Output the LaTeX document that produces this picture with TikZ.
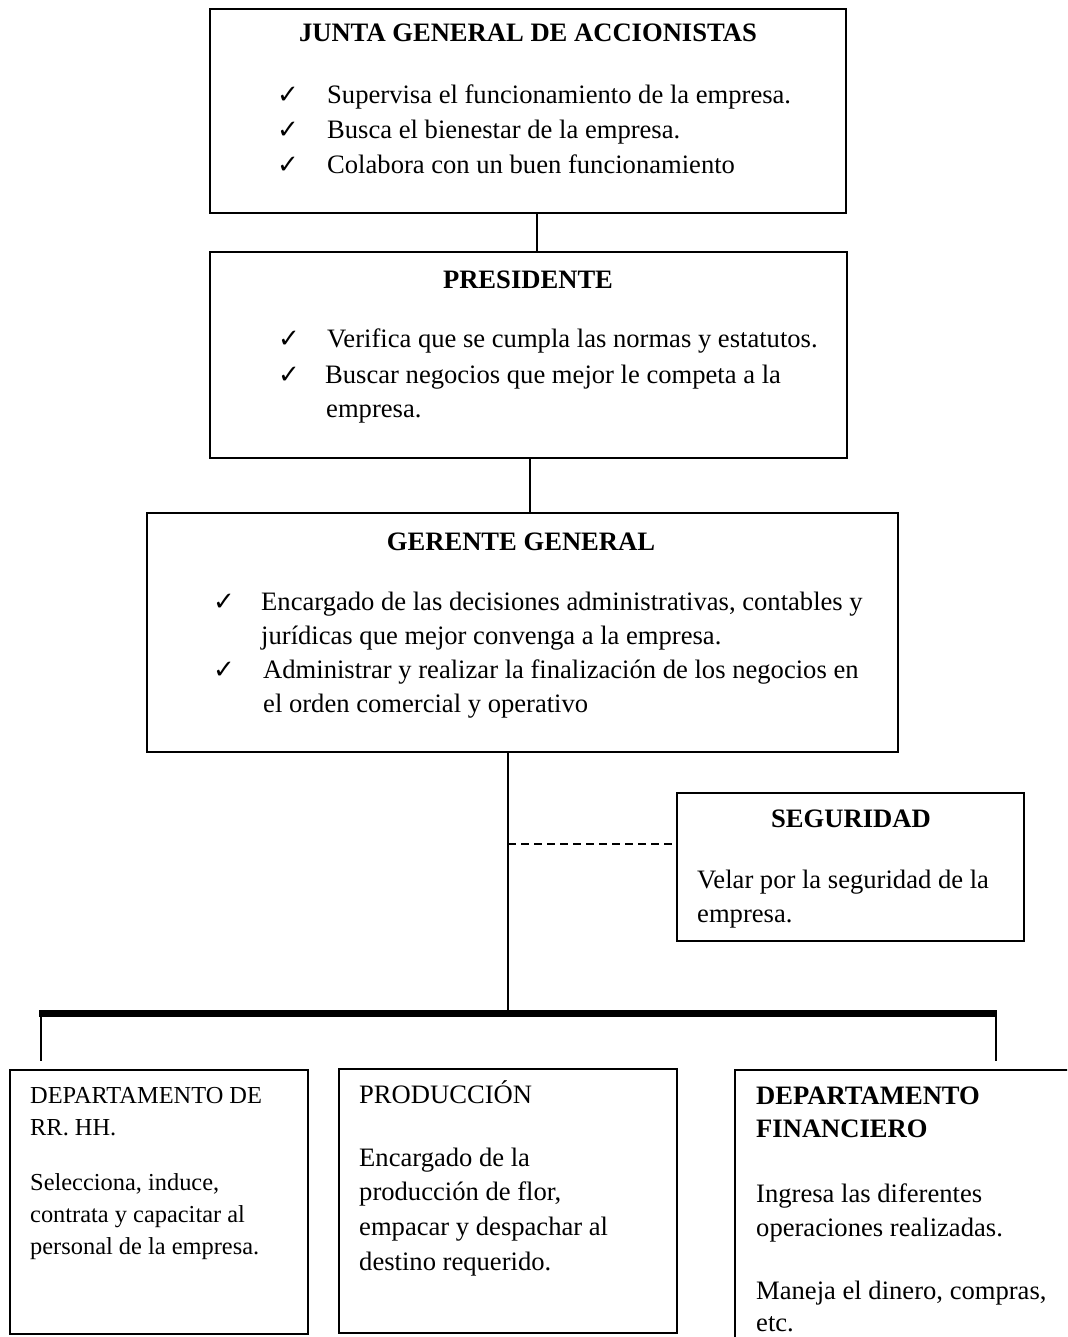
\documentclass[tikz,border=0pt]{standalone}
\usepackage{fontspec}
\setmainfont{Liberation Serif}
\newfontfamily\djv{DejaVu Sans}
\newcommand\fsA{\fontsize{26.6}{34}\selectfont}
\newcommand\fsB{\fontsize{24.4}{34}\selectfont}
\begin{document}
\begin{tikzpicture}[x=1pt,y=-1pt,
  box/.style={draw,line width=1.6pt,inner sep=0pt,anchor=north west},
  txt/.style={inner sep=0pt,anchor=base west,font=\fsA},
  txtB/.style={inner sep=0pt,anchor=base west,font=\fsB},
  bld/.style={inner sep=0pt,anchor=base west,font=\fsA\bfseries},
  ttl/.style={inner sep=0pt,anchor=base,font=\fsA\bfseries},
  chk/.style={inner sep=0pt,anchor=base west,font=\djv\fontsize{26}{26}\selectfont},
  conn/.style={line width=1.4pt}]
\useasboundingbox (0,0) rectangle (1067,1337);
\clip (0,0) rectangle (1067,1337);
\fill[white] (0,0) rectangle (1067,1337);
% boxes
\node[box,minimum width=636pt,minimum height=204pt] (junta) at (209,8) {};
\node[box,minimum width=637pt,minimum height=206pt] (pres) at (209,251) {};
\node[box,minimum width=751pt,minimum height=239pt] (ger) at (146,512) {};
\node[box,minimum width=347pt,minimum height=148pt] (seg) at (676,792) {};
\node[box,minimum width=298pt,minimum height=264pt] (rh) at (9,1069) {};
\node[box,minimum width=338pt,minimum height=264pt] (prod) at (338,1068) {};
\node[box,minimum width=400pt,minimum height=300pt] (fin) at (734,1069) {};
% Junta
\node[ttl] (jt) at (528,42) {JUNTA GENERAL DE ACCIONISTAS};
\node[chk] (jc1) at (277,104) {✓};
\node[txt] (j1) at (327,104) {Supervisa el funcionamiento de la empresa.};
\node[chk] (jc2) at (277,139) {✓};
\node[txt] (j2) at (327,139) {Busca el bienestar de la empresa.};
\node[chk] (jc3) at (277,174) {✓};
\node[txt] (j3) at (327,174) {Colabora con un buen funcionamiento};
% Presidente
\node[ttl] (pt) at (528,288) {PRESIDENTE};
\node[chk] (pc1) at (278,347) {✓};
\node[txt] (p1) at (327,347) {Verifica que se cumpla las normas y estatutos.};
\node[chk] (pc2) at (278,383) {✓};
\node[txt] (p2) at (325,383) {Buscar negocios que mejor le competa a la};
\node[txt] (p3) at (326,417) {empresa.};
% Gerente
\node[ttl] (gt) at (521,550) {GERENTE GENERAL};
\node[chk] (gc1) at (213,610) {✓};
\node[txt] (g1) at (261,610) {Encargado de las decisiones administrativas, contables y};
\node[txt] (g2) at (261,644) {jurídicas que mejor convenga a la empresa.};
\node[chk] (gc2) at (213,678) {✓};
\node[txt] (g3) at (263,678) {Administrar y realizar la finalización de los negocios en};
\node[txt] (g4) at (263,712) {el orden comercial y operativo};
% Seguridad
\node[ttl] (st) at (851,827) {SEGURIDAD};
\node[txt] (s1) at (697,888) {Velar por la seguridad de la};
\node[txt] (s2) at (697,922) {empresa.};
% RR HH
\node[txtB] (r1) at (30,1103) {DEPARTAMENTO DE};
\node[txtB] (r2) at (30,1135) {RR. HH.};
\node[txtB] (r3) at (30,1190) {Selecciona, induce,};
\node[txtB] (r4) at (30,1222) {contrata y capacitar al};
\node[txtB] (r5) at (30,1254) {personal de la empresa.};
% Produccion
\node[txt] (d1) at (359,1103) {PRODUCCIÓN};
\node[txt] (d2) at (359,1166) {Encargado de la};
\node[txt] (d3) at (359,1200) {producción de flor,};
\node[txt] (d4) at (359,1235) {empacar y despachar al};
\node[txt] (d5) at (359,1270) {destino requerido.};
% Financiero
\node[bld] (f1) at (756,1104) {DEPARTAMENTO};
\node[bld] (f2) at (756,1137) {FINANCIERO};
\node[txt] (f3) at (756,1202) {Ingresa las diferentes};
\node[txt] (f4) at (756,1236) {operaciones realizadas.};
\node[txt] (f5) at (756,1299) {Maneja el dinero, compras,};
\node[txt] (f6) at (756,1331) {etc.};
% connectors
\coordinate (x1) at (537,0);
\coordinate (x2) at (530,0);
\coordinate (x3) at (508,0);
\coordinate (busL) at (39,1013.5);
\coordinate (busR) at (997,1013.5);
\coordinate (dropL) at (41,1061);
\coordinate (dropR) at (996,1061);
\coordinate (dsh) at (508,844);
\draw[conn] (junta.south -| x1) -- (pres.north -| x1);
\draw[conn] (pres.south -| x2) -- (ger.north -| x2);
\draw[conn] (ger.south -| x3) -- (busL -| x3);
\draw[line width=7pt] (busL) -- (busR);
\draw[conn] (busL -| dropL) -- (dropL);
\draw[conn] (busR -| dropR) -- (dropR);
\draw[conn,dash pattern=on 8pt off 5pt] (dsh) -- (seg.west |- dsh);
\end{tikzpicture}
\end{document}
